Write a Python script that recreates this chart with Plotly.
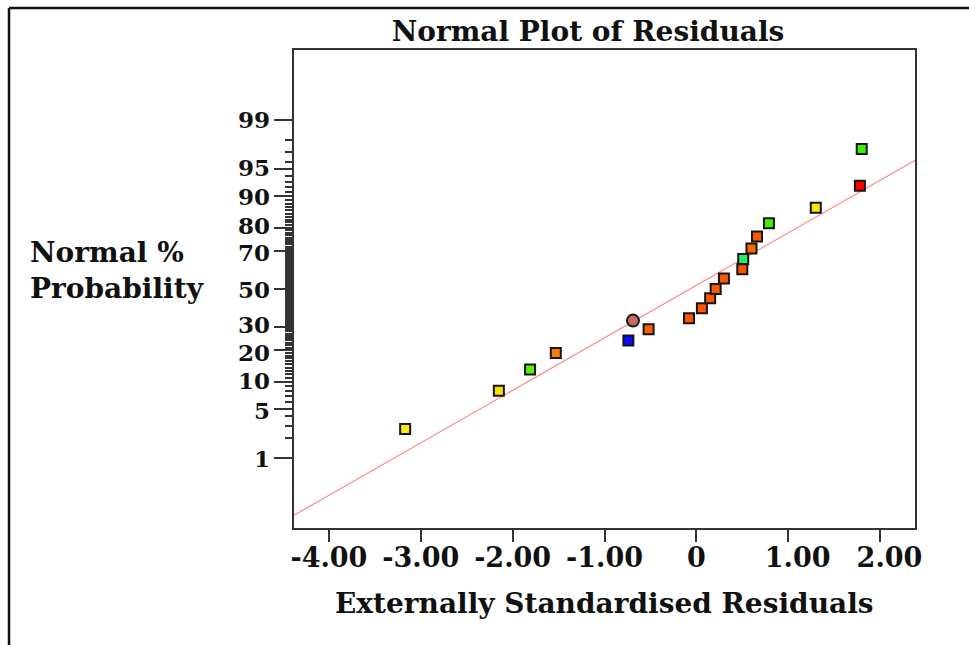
import plotly.graph_objects as go
from statistics import NormalDist

# Externally standardised residuals, sorted as plotted
residuals = [-3.17, -2.15, -1.81, -1.53, -0.74, -0.52, -0.69, -0.08, 0.06, 0.15,
             0.21, 0.30, 0.50, 0.51, 0.60, 0.66, 0.79, 1.30, 1.78, 1.80]
# Normal % probability of each residual
normal_pct = [2.7, 8.1, 13.4, 18.9, 23.9, 29.0, 33.2, 34.4, 39.6, 45.0,
              50.0, 55.7, 60.7, 66.0, 71.1, 76.5, 81.7, 86.8, 92.2, 97.3]
point_colors = ["#ffe800", "#ffe000", "#5cf000", "#ff7a00", "#0a0aff",
                "#ff6000", "#c46868", "#ff5500", "#ff5500", "#ff5500",
                "#ff5500", "#ff5500", "#ff5000", "#20ee66", "#ff6a00",
                "#ff5500", "#44f000", "#ffe800", "#ff0000", "#3cf000"]
point_symbols = ["square"] * 6 + ["circle"] + ["square"] * 13

# Reference line of the normal fit (centre and spread of the residuals)
line_center = -0.07
line_scale = 1.385

major_pct = [1, 5, 10, 20, 30, 50, 70, 80, 90, 95, 99]
minor_pct = [p for p in range(2, 99) if p not in major_pct]
# small vertical nudges (px) that keep the tightly packed labels apart
label_nudge = {5: -1.5, 10: 1.5, 20: -2, 30: 2.5, 70: -2, 80: 2.5, 90: -1, 95: 1.5}
x_ticks = [-4, -3, -2, -1, 0, 1, 2]
x_tick_text = ["-4.00", "-3.00", "-2.00", "-1.00", "0", "\u20071.00", "\u20072.00"]
x_range = [-4.38, 2.38]

nd = NormalDist()


def probit(pct):
    return nd.inv_cdf(pct / 100.0)


FONT = "DejaVu Serif"
INK = "#111111"
AXIS = "#333333"

fig = go.Figure()

fig.add_trace(go.Scatter(
    x=x_range,
    y=[(v - line_center) / line_scale for v in x_range],
    mode="lines",
    line=dict(color="#ff8a8a", width=1.2),
    hoverinfo="skip",
    showlegend=False,
))

fig.add_trace(go.Scatter(
    x=residuals,
    y=[probit(p) for p in normal_pct],
    mode="markers",
    marker=dict(
        symbol=point_symbols,
        size=[12 if s == "circle" else 10 for s in point_symbols],
        color=point_colors,
        opacity=1,
        line=dict(color="#151515", width=2),
    ),
    showlegend=False,
))

# probability labels beside the major ticks
y_labels = [
    dict(
        text=str(p),
        xref="paper", yref="y",
        x=(271 - 294) / 621, y=probit(p),
        xanchor="right", yanchor="middle",
        yshift=label_nudge.get(p, 0),
        showarrow=False, borderpad=0,
        font=dict(family=FONT, size=23, color=INK, weight="bold"),
    )
    for p in major_pct
]

fig.update_layout(
    width=969,
    height=645,
    margin=dict(l=294, r=54, t=50, b=117),
    paper_bgcolor="white",
    plot_bgcolor="white",
    title=dict(
        text="Normal Plot of Residuals",
        font=dict(family=FONT, size=28, color=INK, weight="bold"),
        x=0.4734, xref="paper", xanchor="center",
        y=1 - 31 / 645, yref="container", yanchor="middle",
    ),
    xaxis=dict(
        range=x_range,
        tickmode="array",
        tickvals=x_ticks,
        ticktext=x_tick_text,
        ticks="outside",
        ticklen=12,
        tickwidth=2,
        tickcolor=AXIS,
        ticklabelstandoff=-7,
        showline=True,
        linewidth=2,
        linecolor=AXIS,
        mirror=True,
        showgrid=False,
        zeroline=False,
        tickfont=dict(family=FONT, size=27, color=INK, weight="bold"),
    ),
    yaxis=dict(
        range=[-3.287, 3.287],
        tickmode="array",
        tickvals=[probit(p) for p in major_pct],
        showticklabels=False,
        ticks="outside",
        ticklen=18,
        tickwidth=2,
        tickcolor=AXIS,
        showline=True,
        linewidth=2,
        linecolor=AXIS,
        mirror=True,
        showgrid=False,
        zeroline=False,
        minor=dict(
            tickmode="array",
            tickvals=[probit(p) for p in minor_pct],
            ticks="outside",
            ticklen=7,
            tickwidth=1.5,
            tickcolor=AXIS,
            showgrid=False,
        ),
    ),
    annotations=y_labels + [
        dict(
            text="Externally Standardised Residuals",
            xref="paper", yref="paper",
            x=0.5, y=(528 - 603) / 478,
            xanchor="center", yanchor="middle",
            showarrow=False,
            font=dict(family=FONT, size=28, color=INK, weight="bold"),
        ),
        dict(
            text="Normal %<br>Probability",
            xref="paper", yref="paper",
            x=(28 - 294) / 621, y=(528 - 270) / 478,
            xanchor="left", yanchor="middle", align="left",
            showarrow=False,
            font=dict(family=FONT, size=28, color=INK, weight="bold"),
        ),
    ],
    shapes=[
        # page frame: left and top edges
        dict(type="line", xref="paper", yref="paper",
             x0=(9 - 294) / 621, x1=(969 - 294) / 621,
             y0=(528 - 8) / 478, y1=(528 - 8) / 478,
             line=dict(color="#111111", width=2.5)),
        dict(type="line", xref="paper", yref="paper",
             x0=(9 - 294) / 621, x1=(9 - 294) / 621,
             y0=(528 - 8) / 478, y1=(528 - 645) / 478,
             line=dict(color="#111111", width=2.5)),
    ],
)

fig.write_html("out.html")
